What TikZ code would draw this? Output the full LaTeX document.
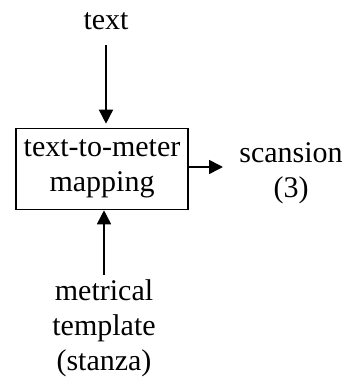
\documentclass[tikz,border=0pt]{standalone}
\usepackage{fontspec}
\setmainfont{Liberation Serif}
\usetikzlibrary{arrows.meta,positioning}
\tikzset{
    flowarrow/.style={line width=1.6pt,-{Triangle[length=14pt,width=14pt]}},
    label/.style={font=\fontsize{30}{35}\selectfont,align=center,inner sep=0pt},
    mapbox/.style={draw,line width=1.6pt,minimum width=172pt,minimum height=81pt,
        font=\fontsize{30}{35}\selectfont,align=center,inner sep=0pt}
}

\begin{document}
\begin{tikzpicture}[x=1pt,y=1pt]
    \useasboundingbox (0,0) rectangle (348,377);
    \node[mapbox] (map) at (102,208) {text-to-meter\\mapping};
    \node[label,anchor=base] (txt) at (106,347) {text};
    % base of a multi-line node is the baseline of its last line
    \node[label,anchor=base] (scan) at (291,179) {scansion\\(3)};
    \node[label,anchor=base] (tmpl) at (104,6) {metrical\\template\\(stanza)};
    \coordinate (scanin) at (223,210);
    \draw[flowarrow] ([yshift=-15pt]txt.south) -- ([yshift=4pt]txt.south |- map.north);
    \draw[flowarrow] (map.east |- scanin) -- (scanin);
    \draw[flowarrow] ([yshift=5pt]tmpl.north) -- (tmpl.north |- map.south);
\end{tikzpicture}
\end{document}
